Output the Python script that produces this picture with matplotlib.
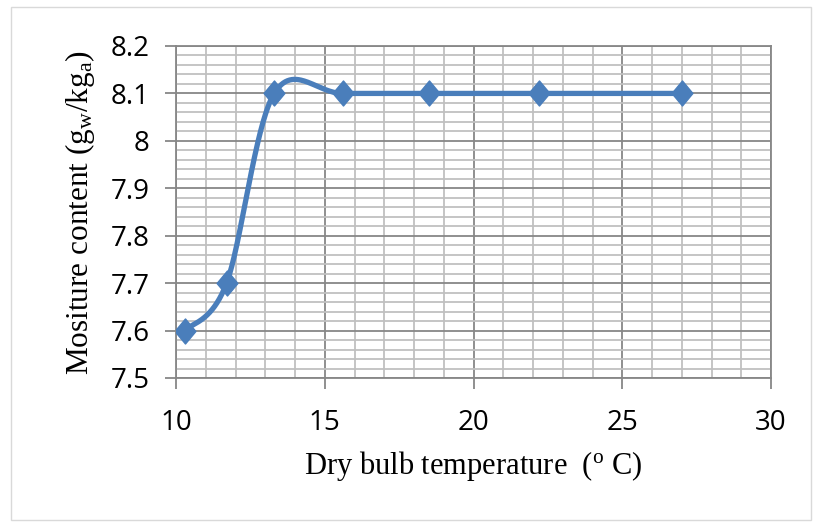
import numpy as np
import matplotlib
matplotlib.use("Agg")
import matplotlib.pyplot as plt
from matplotlib.patches import Rectangle
from matplotlib.path import Path
from matplotlib.ticker import MultipleLocator

temps = [10.3, 11.7, 13.3, 15.6, 18.5, 22.2, 27.0]
moisture = [7.6, 7.7, 8.1, 8.1, 8.1, 8.1, 8.1]

x_ticks = [10, 15, 20, 25, 30]
y_ticks = [7.5, 7.6, 7.7, 7.8, 7.9, 8.0, 8.1, 8.2]
y_tick_labels = ["7.5", "7.6", "7.7", "7.8", "7.9", "8", "8.1", "8.2"]

plt.rcParams['mathtext.fontset'] = 'custom'
plt.rcParams['mathtext.rm'] = 'Liberation Serif'
plt.rcParams['mathtext.it'] = 'Liberation Serif:italic'

def excel_smooth(x, y, n=60):
    P = np.column_stack([x, y]).astype(float)
    m = len(P)
    out = [P[0]]
    for i in range(m - 1):
        p0 = P[i - 1] if i > 0 else P[i]
        p1 = P[i]
        p2 = P[i + 1]
        p3 = P[i + 2] if i + 2 < m else P[i + 1]
        c1 = p1 + (p2 - p0) / 6.0
        c2 = p2 - (p3 - p1) / 6.0
        t = np.linspace(0, 1, n)[1:, None]
        seg = ((1 - t) ** 3) * p1 + 3 * ((1 - t) ** 2) * t * c1 + 3 * (1 - t) * t ** 2 * c2 + t ** 3 * p2
        out.extend(seg)
    out = np.array(out)
    return out[:, 0], out[:, 1]

fig = plt.figure(figsize=(8.13, 5.24), dpi=100)
fig.patches.append(Rectangle((11 / 813, 4 / 524), 800 / 813, 513 / 524, transform=fig.transFigure,
                             fill=False, edgecolor='#D9D9D9', linewidth=1.0))
ax = fig.add_axes([176 / 813, 1 - 378 / 524, (771 - 176) / 813, (378 - 46) / 524])

blue = '#4A7EBB'
sx, sy = excel_smooth(temps, moisture)
ax.plot(sx, sy, color=blue, linewidth=3.8, solid_capstyle='round', zorder=3)
diamond = Path([(0, 1.2), (1, 0), (0, -1.2), (-1, 0), (0, 1.2)],
               [Path.MOVETO, Path.LINETO, Path.LINETO, Path.LINETO, Path.CLOSEPOLY])
ax.plot(temps, moisture, linestyle='none', marker=diamond, markersize=18,
        color=blue, markeredgecolor=blue, zorder=4)

ax.set_xlim(10, 30)
ax.set_ylim(7.5, 8.2)
ax.set_xticks(x_ticks)
ax.set_yticks(y_ticks)
ax.set_yticklabels(y_tick_labels)
ax.xaxis.set_minor_locator(MultipleLocator(1))
ax.yaxis.set_minor_locator(MultipleLocator(0.02))

ax.grid(which='major', color='#878787', linewidth=1.3, zorder=1)
ax.grid(which='minor', color='#C0C0C0', linewidth=1.3, zorder=0)
ax.set_axisbelow(True)
for s in ax.spines.values():
    s.set_color('#878787')
    s.set_linewidth(1.3)

ax.tick_params(which='major', direction='out', length=8, width=1.3, color='#878787',
               labelsize=20, pad=14)
ax.tick_params(axis='y', pad=11)
ax.tick_params(which='minor', length=0)
for lab in ax.get_xticklabels() + ax.get_yticklabels():
    lab.set_fontfamily('Open Sans')

ax.set_xlabel(r'Dry bulb temperature  ($^{\mathrm{o}}$ C)', fontfamily='Liberation Serif',
              fontsize=22, labelpad=9)
ax.set_ylabel(r'Mositure content (g$_{\mathrm{w}}$/kg$_{\mathrm{a}}$)', fontfamily='Liberation Serif',
              fontsize=22.5, labelpad=10)

fig.savefig('out.png', dpi=100)
